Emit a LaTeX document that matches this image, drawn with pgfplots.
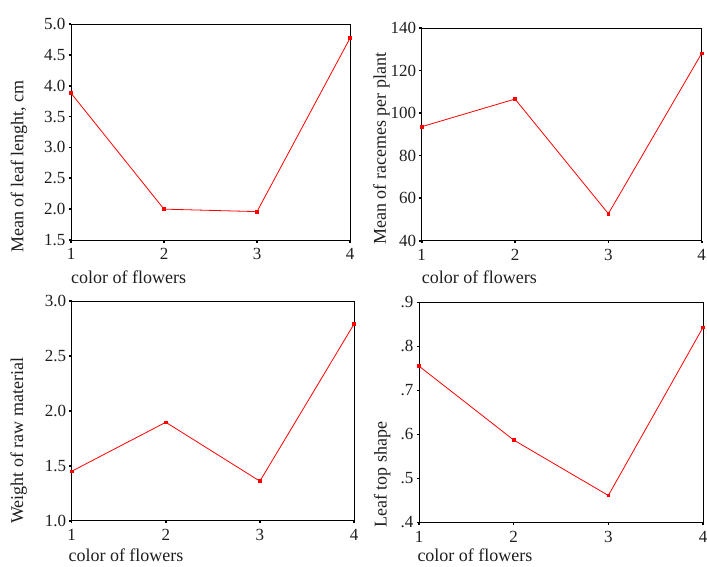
\documentclass[border=0pt]{standalone}
\usepackage{pgfplots}
\pgfplotsset{compat=1.18}
\usepackage{fontspec}
\setmainfont{Liberation Serif}
\definecolor{txt}{HTML}{1E1E1E}
\pgfplotsset{
  panel/.style={
    scale only axis,
    anchor=south west,
    xmin=1, xmax=4,
    xtick={1,2,3,4},
    axis line style={black, line width=0.9pt},
    tick align=outside,
    xtick pos=lower, ytick pos=left,
    major tick length=2.5pt,
    tick style={black, line width=1.6pt},
    every tick label/.append style={font=\fontsize{17}{20}\selectfont, text=txt},
    label style={font=\fontsize{18}{21}\selectfont, text=txt},
    xticklabel style={anchor=north, inner sep=0pt, yshift=-6pt},
    yticklabel style={anchor=east, inner sep=0pt, xshift=-3pt},
    /pgf/number format/assume math mode=true,
    xlabel style={anchor=west, inner sep=0pt},
    ylabel style={anchor=west, inner sep=0pt},
    clip=false,
  },
  redline/.style={color=red, line width=0.8pt, mark=square*, mark size=1.3pt, mark options={fill=red, draw=red}},
}
\begin{document}
\begin{tikzpicture}
\useasboundingbox (0pt,0pt) rectangle (707pt,566pt);
% Panel 1
\begin{axis}[panel, at={(71pt,326pt)}, width=279pt, height=216pt,
  ymin=1.5, ymax=5.0, ytick={1.5,2.0,...,5.0},
  yticklabel style={/pgf/number format/.cd, fixed, fixed zerofill, precision=1},
  xlabel={color of flowers}, xlabel style={at={(axis description cs:0,-0.171)}},
  ylabel={Mean of leaf lenght, cm}, ylabel style={at={(axis description cs:-0.186,-0.06)}}]
\addplot[redline] coordinates {(1,3.88) (2,2.00) (3,1.96) (4,4.77)};
\end{axis}
% Panel 2
\begin{axis}[panel, at={(421.7pt,325.3pt)}, width=280pt, height=212.7pt,
  ymin=40, ymax=140, ytick={40,60,...,140},
  xlabel={color of flowers}, xlabel style={at={(axis description cs:0,-0.17)}},
  ylabel={Mean of racemes per plant}, ylabel style={at={(axis description cs:-0.1436,-0.02)}}]
\addplot[redline] coordinates {(1,93.6) (2,106.6) (3,52.7) (4,128.1)};
\end{axis}
% Panel 3
\begin{axis}[panel, at={(71.7pt,45.3pt)}, width=282.3pt, height=219.7pt,
  ymin=1.0, ymax=3.0, ytick={1.0,1.5,...,3.0},
  yticklabel style={/pgf/number format/.cd, fixed, fixed zerofill, precision=1},
  xlabel={color of flowers}, xlabel style={at={(axis description cs:-0.012,-0.158)}},
  ylabel={Weight of raw material}, ylabel style={at={(axis description cs:-0.188,-0.015)}}]
\addplot[redline] coordinates {(1,1.45) (2,1.896) (3,1.36) (4,2.79)};
\end{axis}
% Panel 4
\begin{axis}[panel, at={(419pt,43.7pt)}, width=284pt, height=220pt,
  ymin=0.4, ymax=0.9, ytick={0.4,0.5,...,0.9},
  yticklabels={.4,.5,.6,.7,.8,.9},
  xlabel={color of flowers}, xlabel style={at={(axis description cs:-0.006,-0.152)}},
  ylabel={Leaf top shape}, ylabel style={at={(axis description cs:-0.13,-0.025)}}]
\addplot[redline] coordinates {(1,0.755) (2,0.587) (3,0.461) (4,0.843)};
\end{axis}
\end{tikzpicture}
\end{document}
